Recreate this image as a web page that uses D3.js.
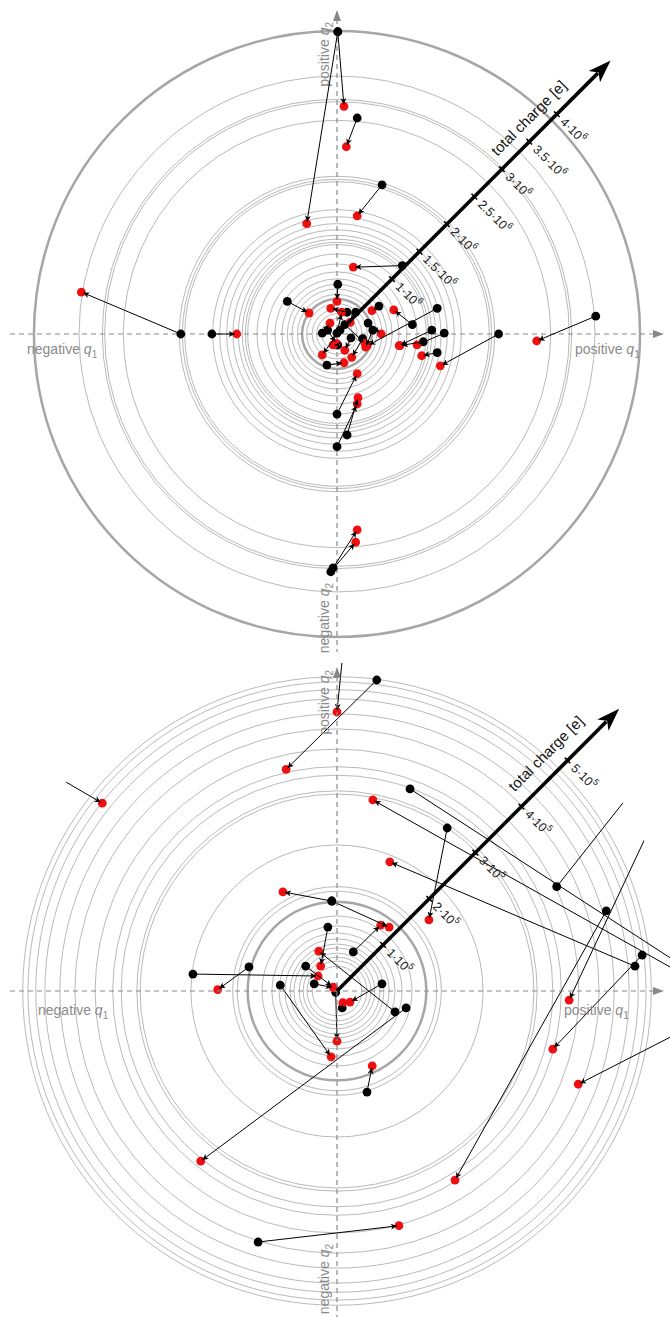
<!DOCTYPE html>
<html><head><meta charset="utf-8">
<script src="https://cdn.jsdelivr.net/npm/d3@7"></script>
<style>body{margin:0;background:#fff}svg{display:block;font-family:"Liberation Sans",Arial,sans-serif}</style>
</head><body>
<svg id="chart" width="670" height="1317"></svg>
<script>
// ---------------- DATA (top panel: units of 10^6 e, bottom panel: units of 10^5 e) ----------------
const topRings = [3.32,3.02,2.99,2.75,2.03,1.99,1.96,1.60,1.51,1.42,1.34,1.27,1.22,1.18,1.15,1.03,0.90,0.80,0.71,0.64,0.58,0.51,0.39,0.32,0.26,0.20];
const topThickRings = [3.90,0.45];
const topStart = [[0.01,3.89],[0.01,3.89],[0.26,2.78],[0.58,1.92],[0.84,0.88],[-2.01,0],[-1.61,0],[3.33,0.23],[2.08,0],[1.29,0.33],[0.97,0.12],[1.22,0.05],[1.38,0.01],[1.11,-0.10],[1.29,-0.24],[0.54,0.36],[0.01,0.64],[-0.64,0.42],[-0.13,-0.40],[0,-1.03],[0.13,-1.30],[0,-1.45],[-0.05,-3.01],[-0.08,-3.06],
  [0.04,0.05],[0.33,-0.06],[0.13,0.28],[-0.12,0.05],[0.40,0.14],[0.18,-0.05],[-0.19,0.01],[0,0.01],[0.46,0.05],[0.24,0.28],[0.01,-0.14],[0.10,0.12]];
const topEnd = [[0.09,2.93],[-0.39,1.42],[0.12,2.41],[0.26,1.52],[0.21,0.86],[-3.29,0.54],[-1.29,0],[2.57,-0.09],[1.33,-0.41],[0.39,-0.15],[0.73,0.31],[0.80,-0.15],[1.03,-0.14],[0.81,-0.15],[1.09,-0.28],[0.45,0.30],[0,0.42],[-0.36,0.27],[0.09,-0.37],[0.26,-0.51],[0.27,-0.82],[0.26,-0.90],[0.26,-2.52],[0.24,-2.68],
  [-0.19,-0.27],[0.19,-0.30],[-0.08,0.33],[-0.01,-0.12],[0.57,0],[0.10,-0.21],[-0.09,0.14],[0.06,0.28],[0.37,-0.17],[0.17,0.15],[-0.05,-0.14],[0.36,-0.12]];
const topTickValues = [1,1.5,2,2.5,3,3.5,4];
const topTickLabels = ["1","1.5","2","2.5","3","3.5","4"];
const topExponent = "6";

const botRings = [4.82,4.74,4.62,4.48,4.25,4.02,3.71,3.44,3.31,3.07,3.02,2.24,1.60,1.53,1.15,1.00,0.89,0.80,0.72,0.66,0.58,0.52,0.46,0.38];
const botThickRings = [1.37];
const botStart = [[0.61,4.77],[0.11,5.38],[-4.56,3.44],[1.12,3.10],[5.87,-0.06],[4.57,0.38],[1.69,2.50],[3.37,1.60],[4.13,1.23],[4.68,0.55],[4.88,2.67],[5.87,-0.32],[-0.08,1.38],[-0.08,1.38],[0.25,0.60],[-0.14,0.98],[0.89,-0.32],[-1.35,0.37],[-2.21,0.26],[-0.48,0.38],[-0.35,0.11],[-0.87,0.09],[-0.02,-0.02],[0.69,0.11],[1.06,-0.26],[0.46,-1.55],[-1.21,-3.85],[0.08,-0.26]];
const botEnd = [[-0.78,3.40],[0,4.28],[-3.60,2.88],[5.57,0.21],[0.55,2.93],[0.81,1.98],[1.41,1.09],[4.65,3.22],[1.81,-2.90],[3.31,-0.89],[3.56,-0.14],[3.70,-1.43],[-0.83,1.52],[0.80,0.98],[0.67,1.01],[-0.25,0.38],[-0.28,0.61],[-1.83,0.02],[-0.29,0.23],[-0.06,0.06],[-0.05,0.05],[-0.09,-1.01],[0,-0.77],[0.20,-0.17],[-2.09,-2.61],[0.54,-1.15],[0.95,-3.60],[0.09,-0.18]];
const botTickValues = [1,2,3,4,5];
const botTickLabels = ["1","2","3","4","5"];
const botExponent = "5";

// ---------------- LAYOUT ----------------
const SQ = Math.SQRT1_2;
const panels = [
  {id:"t", cx:337, cy:334, k:77.7, rings:topRings, thick:topThickRings, start:topStart, end:topEnd,
   ticks:topTickValues, tickLabels:topTickLabels, exp:topExponent, axisMax:4.98, titleU:3.71, titleV:12,
   hx:[10,664], vy:[10,652], clip:null,
   labels:{posQ2:{x:329,y:22}, negQ2:{x:329,y:583}, negQ1:{x:27,y:354}, posQ1:{x:575,y:354}}},
  {id:"b", cx:337, cy:991, k:65.2, rings:botRings, thick:botThickRings, start:botStart, end:botEnd,
   ticks:botTickValues, tickLabels:botTickLabels, exp:botExponent, axisMax:6.12, titleU:4.84, titleV:15,
   hx:[10,664], vy:[667,1317], clip:{r:342, top:663},
   labels:{posQ2:{x:329,y:670}, negQ2:{x:329,y:1244}, negQ1:{x:38,y:1015}, posQ1:{x:564,y:1015}}}
];

const svg = d3.select("#chart");
const defs = svg.append("defs");
defs.append("marker").attr("id","ah").attr("viewBox","0 0 10 10").attr("refX",10).attr("refY",5)
  .attr("markerUnits","userSpaceOnUse").attr("markerWidth",8).attr("markerHeight",6).attr("orient","auto")
  .append("path").attr("d","M0,0L10,5L0,10L2.5,5z").attr("fill","#000");

function qLabel(t, word, sub){
  t.append("tspan").text(word+" ");
  t.append("tspan").attr("font-style","italic").text("q");
  t.append("tspan").attr("font-size",10).attr("dy",4).text(sub);
}

panels.forEach(p=>{
  const x = d3.scaleLinear().domain([-1,1]).range([p.cx-p.k, p.cx+p.k]);
  const y = d3.scaleLinear().domain([-1,1]).range([p.cy+p.k, p.cy-p.k]);
  const r = d3.scaleLinear().domain([0,1]).range([0,p.k]);
  const P = (u,v)=>[p.cx + (u - v)*SQ, p.cy - (u + v)*SQ];

  const g = svg.append("g");
  let body = g;
  if (p.clip){
    defs.append("clipPath").attr("id","cr"+p.id).append("rect").attr("x",0).attr("y",p.clip.top).attr("width",670).attr("height",1317-p.clip.top);
    defs.append("clipPath").attr("id","cc"+p.id).append("circle").attr("cx",x(0)).attr("cy",y(0)).attr("r",p.clip.r);
    body = g.append("g").attr("clip-path","url(#cr"+p.id+")").append("g").attr("clip-path","url(#cc"+p.id+")");
  }
  // rings
  body.append("g").selectAll("circle").data(p.rings).join("circle")
    .attr("cx",x(0)).attr("cy",y(0)).attr("r",d=>r(d)).attr("fill","none").attr("stroke","#b9b9b9").attr("stroke-width",1);
  body.append("g").selectAll("circle").data(p.thick).join("circle")
    .attr("cx",x(0)).attr("cy",y(0)).attr("r",d=>r(d)).attr("fill","none").attr("stroke","#a6a6a6").attr("stroke-width",2.5);

  // dashed axes
  const ax = g.append("g").attr("stroke","#888").attr("stroke-width",1.2).attr("stroke-dasharray","5,4");
  ax.append("line").attr("x1",p.hx[0]).attr("x2",p.hx[1]-9).attr("y1",y(0)).attr("y2",y(0));
  ax.append("line").attr("x1",x(0)).attr("x2",x(0)).attr("y1",p.vy[0]+9).attr("y2",p.vy[1]);
  g.append("path").attr("fill","#888")
    .attr("d",`M${p.hx[1]},${y(0)}L${p.hx[1]-11},${y(0)-4}L${p.hx[1]-11},${y(0)+4}Z`);
  g.append("path").attr("fill","#888")
    .attr("d",`M${x(0)},${p.vy[0]}L${x(0)-4},${p.vy[0]+11}L${x(0)+4},${p.vy[0]+11}Z`);

  // axis labels
  const L = p.labels, lab = g.append("g").attr("fill","#8a8a8a").attr("font-size",14);
  qLabel(lab.append("text").attr("transform",`translate(${L.posQ2.x},${L.posQ2.y}) rotate(-90)`).attr("text-anchor","end"),"positive","2");
  qLabel(lab.append("text").attr("transform",`translate(${L.negQ2.x},${L.negQ2.y}) rotate(-90)`).attr("text-anchor","end"),"negative","2");
  qLabel(lab.append("text").attr("x",L.negQ1.x).attr("y",L.negQ1.y),"negative","1");
  qLabel(lab.append("text").attr("x",L.posQ1.x).attr("y",L.posQ1.y),"positive","1");

  // points
  const pairs = p.start.map((s,i)=>({s, e:p.end[i]}));
  body.append("g").selectAll("circle").data(pairs).join("circle")
    .attr("cx",d=>x(d.s[0])).attr("cy",d=>y(d.s[1])).attr("r",4.4).attr("fill","#000");
  body.append("g").selectAll("circle").data(pairs).join("circle")
    .attr("cx",d=>x(d.e[0])).attr("cy",d=>y(d.e[1])).attr("r",4.4).attr("fill","#ee1010");
  body.append("g").selectAll("line").data(pairs).join("line")
    .each(function(d){
      const x1=x(d.s[0]), y1=y(d.s[1]), x2=x(d.e[0]), y2=y(d.e[1]);
      const L0=Math.hypot(x2-x1,y2-y1)||1, sh=Math.min(2,L0/3);
      d3.select(this).attr("x1",x1).attr("y1",y1).attr("x2",x2-(x2-x1)/L0*sh).attr("y2",y2-(y2-y1)/L0*sh);
    })
    .attr("stroke","#000").attr("stroke-width",1).attr("marker-end","url(#ah)");

  // total charge axis
  const U = r(p.axisMax);
  const ca = g.append("g");
  const a0 = P(0,0), a1 = P(U-18,0);
  ca.append("line").attr("x1",a0[0]).attr("y1",a0[1]).attr("x2",a1[0]).attr("y2",a1[1]).attr("stroke","#000").attr("stroke-width",3.6);
  const tip=P(U,0), c1=P(U-23,8), c2=P(U-23,-8), nt=P(U-17,0);
  ca.append("path").attr("d",`M${tip}L${c1}L${nt}L${c2}Z`).attr("fill","#000");
  ca.append("g").selectAll("line").data(p.ticks).join("line")
    .attr("x1",d=>P(r(d),-4)[0]).attr("y1",d=>P(r(d),-4)[1]).attr("x2",d=>P(r(d),4)[0]).attr("y2",d=>P(r(d),4)[1])
    .attr("stroke","#000").attr("stroke-width",1.5);
  ca.append("g").selectAll("text").data(p.ticks).join("text")
    .attr("transform",d=>{const q=P(r(d),-8);return `translate(${q[0]},${q[1]}) rotate(45)`;})
    .attr("font-size",12.5).attr("fill","#222").attr("dominant-baseline","central")
    .each(function(d,i){
      const t=d3.select(this);
      t.append("tspan").text(p.tickLabels[i]+"\u00b710");
      t.append("tspan").attr("font-size",9).attr("dy",-5).text(p.exp);
    });
  const tp = P(r(p.titleU), p.titleV);
  ca.append("text").attr("transform",`translate(${tp[0]},${tp[1]}) rotate(-45)`).attr("text-anchor","middle")
    .attr("font-size",15).attr("fill","#111").text("total charge [e]");
});
</script>
</body></html>
